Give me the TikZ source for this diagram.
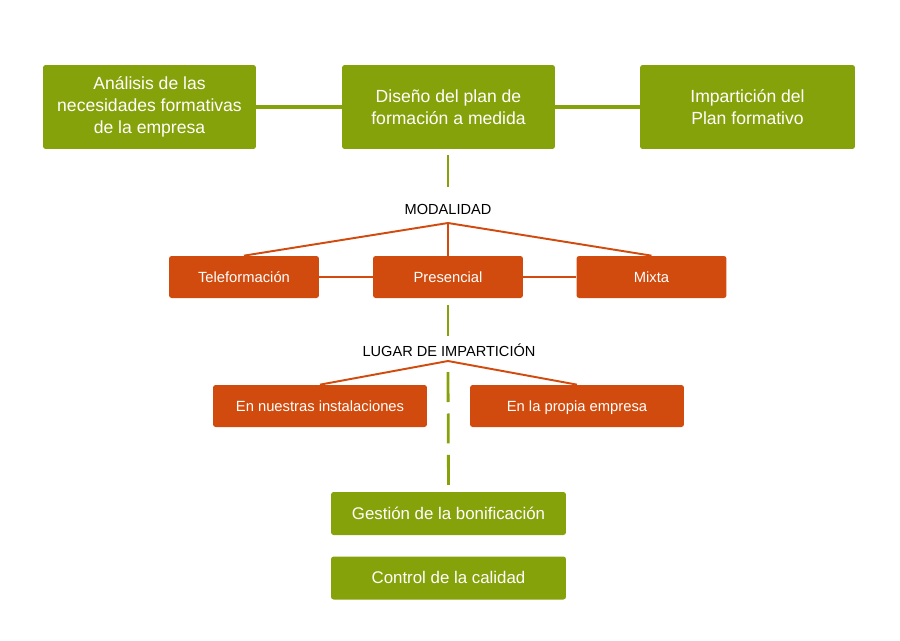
\documentclass[tikz,border=0pt]{standalone}
\usepackage{fontspec}
\setmainfont{Liberation Sans}
\definecolor{verde}{HTML}{86A20A}
\definecolor{naranja}{HTML}{D24B0E}
\begin{document}
\begin{tikzpicture}[x=0.02cm, y=-0.02cm,
  gbox/.style={fill=verde, text=white, rounded corners=1.5pt, minimum width=4.26cm, minimum height=1.68cm, align=center, font=\fontsize{10}{12.5}\selectfont},
  gsmall/.style={gbox, minimum width=4.7cm, minimum height=0.86cm, text height=1.6ex, text depth=0.4ex, font=\fontsize{9.6}{11}\selectfont},
  obox/.style={fill=naranja, text=white, rounded corners=1.5pt, minimum width=3cm, minimum height=0.84cm, text height=1.6ex, text depth=0.4ex, align=center, font=\fontsize{8.4}{10}\selectfont},
  label/.style={text=black, inner sep=0pt, font=\fontsize{8.3}{10}\selectfont},
  gline/.style={verde, line width=1.8pt},
  vline/.style={verde, line width=1.6pt},
  gdash/.style={vline, dash pattern=on 0.6cm off 0.23cm},
  oline/.style={naranja, line width=1.1pt}
]
  \fill[white] (0,0) rectangle (900,640);
  \useasboundingbox (0,0) rectangle (900,640);

  \node[gbox] (analisis) at (149.5,107) {Análisis de las\\necesidades formativas\\de la empresa};
  \node[gbox] (diseno) at (448.5,107) {Diseño del plan de\\formación a medida};
  \node[gbox, minimum width=4.3cm] (imparticion) at (747.5,107) {Impartición del\\Plan formativo};
  \draw[gline] (analisis) -- (diseno);
  \draw[gline] (diseno) -- (imparticion);

  \node[label] (modalidad) at (448,209) {MODALIDAD};
  \coordinate (modtop) at (448,223);
  \node[obox] (tele) at (244,277) {Teleformación};
  \node[obox] (presencial) at (448,277) {Presencial};
  \node[obox] (mixta) at (651.5,277) {Mixta};
  \draw[oline] (tele.north) -- (modtop) -- (mixta.north);
  \draw[oline] (modtop) -- (presencial.north);
  \draw[oline] (tele) -- (presencial);
  \draw[oline] (presencial) -- (mixta);

  \node[label] (lugar) at (449,350) {LUGAR DE IMPARTICIÓN};
  \coordinate (lugtop) at (448,361);
  \node[obox, minimum width=4.28cm] (nuestras) at (320,406) {En nuestras instalaciones};
  \node[obox, minimum width=4.28cm] (propia) at (577,406) {En la propia empresa};
  \draw[oline] (nuestras.north) -- (lugtop) -- (propia.north);

  \node[gsmall] (gestion) at (448.5,513.5) {Gestión de la bonificación};
  \node[gsmall] (control) at (448.5,578) {Control de la calidad};

  \coordinate (d1) at (448,155);
  \coordinate (d2) at (448,187);
  \coordinate (d3) at (448,305);
  \coordinate (d4) at (448,336);
  \coordinate (d5) at (448,372);
  \draw[vline] (d1) -- (d2);
  \draw[vline] (d3) -- (d4);
  \draw[gdash] (d5) -- (gestion.north);
\end{tikzpicture}
\end{document}
